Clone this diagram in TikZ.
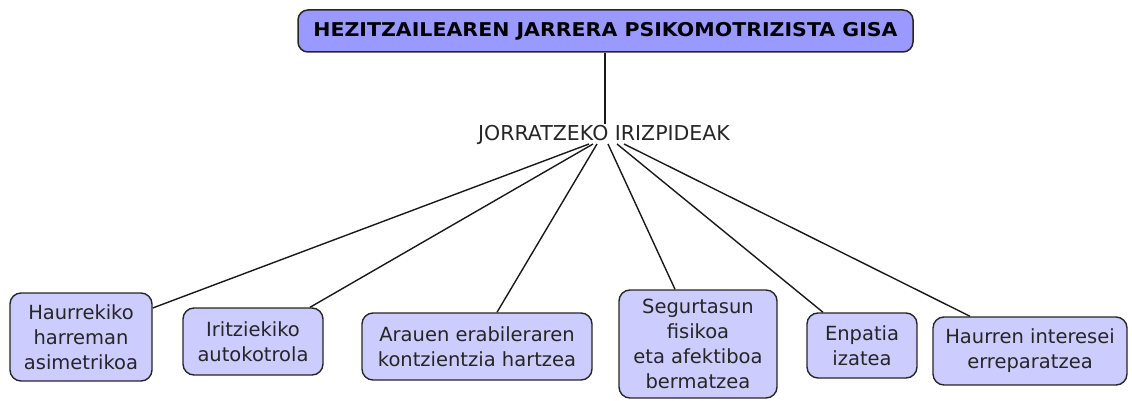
\documentclass[tikz,border=0pt]{standalone}
\usepackage{fontspec}
\setmainfont{DejaVu Sans}
\begin{document}
\begin{tikzpicture}[x=1pt,y=-1pt,
  titlebox/.style={draw=black!85,line width=1.5pt,rounded corners=10pt,fill={rgb,255:red,153;green,153;blue,255},
    minimum width=615pt,minimum height=42pt,inner sep=0pt,font=\fontsize{19}{22}\selectfont\bfseries},
  leafbox/.style={draw=black!85,line width=1.4pt,rounded corners=11pt,fill={rgb,255:red,204;green,204;blue,255},
    align=center,inner sep=0pt,font=\fontsize{19.5}{25}\selectfont,text=black!85},
  link/.style={draw=black!90,line width=1.4pt}]
\useasboundingbox (0,0) rectangle (1132,401);
\node[titlebox] (title) at (605.5,31) {\scalebox{1.08}[1]{HEZITZAILEAREN JARRERA PSIKOMOTRIZISTA GISA}};
\node[font=\fontsize{20.5}{24}\selectfont,inner sep=0pt,text=black!85] (lbl) at (604,134.5) {JORRATZEKO IRIZPIDEAK};
\coordinate (top) at (605,124);
\coordinate (s1) at (589,144);
\coordinate (s2) at (593,144);
\coordinate (s3) at (597,144);
\coordinate (s4) at (608,144);
\coordinate (s5) at (617,144);
\coordinate (s6) at (624,144);
\node[leafbox,minimum width=142pt,minimum height=88pt] (b1) at (81,337) {Haurrekiko\\harreman\\asimetrikoa};
\node[leafbox,minimum width=140pt,minimum height=67pt] (b2) at (253,341.5) {Iritziekiko\\autokotrola};
\node[leafbox,minimum width=230pt,minimum height=67pt] (b3) at (477,346.5) {Arauen erabileraren\\kontzientzia hartzea};
\node[leafbox,minimum width=158pt,minimum height=108pt] (b4) at (698,344) {Segurtasun\\fisikoa\\eta afektiboa\\bermatzea};
\node[leafbox,minimum width=110pt,minimum height=65pt] (b5) at (862,345.5) {Enpatia\\izatea};
\node[leafbox,minimum width=194pt,minimum height=68pt] (b6) at (1030,351) {Haurren interesei\\erreparatzea};
\draw[link] (title.south -| top) -- (top);
\draw[link] (s1) -- ([yshift=29pt]b1.east);
\draw[link] (s2) -- ([xshift=57pt]b2.north);
\draw[link] (s3) -- ([xshift=20pt]b3.north);
\draw[link] (s4) -- ([xshift=-23pt]b4.north);
\draw[link] (s5) -- ([xshift=-39pt]b5.north);
\draw[link] (s6) -- ([xshift=-60pt]b6.north);
\end{tikzpicture}
\end{document}
